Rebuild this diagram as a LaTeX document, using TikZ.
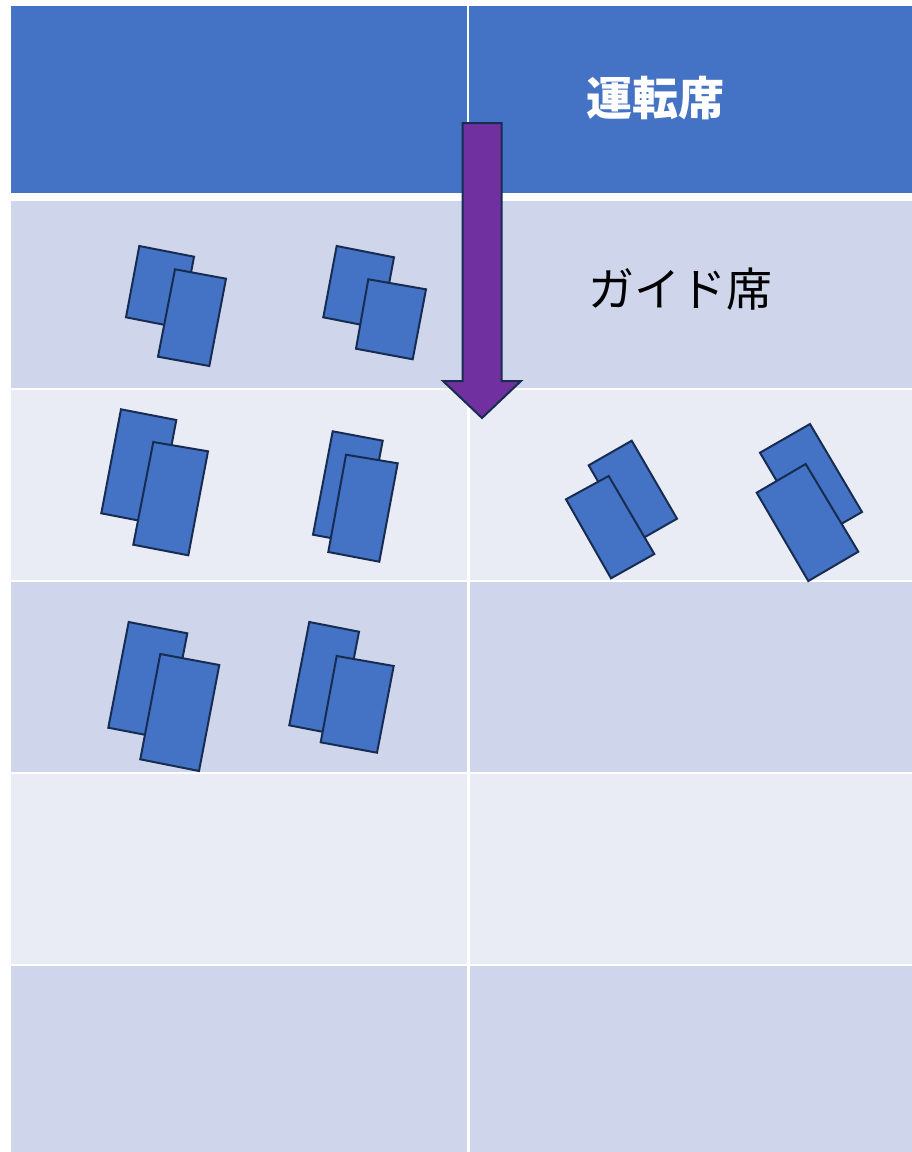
\documentclass[tikz,border=0pt]{standalone}
\usepackage{fontspec}
\newfontfamily\jp{Noto Sans CJK JP}
\definecolor{hdrblue}{HTML}{4472C4}
\definecolor{rowdark}{HTML}{CFD5EA}
\definecolor{rowlight}{HTML}{E9EBF5}
\definecolor{seatline}{HTML}{172C51}
\definecolor{arrowpurple}{HTML}{7030A0}
\tikzset{
  seat/.style={fill=hdrblue, draw=seatline, line width=2pt, line join=miter},
  darkcell/.style={fill=rowdark, draw=none},
  lightcell/.style={fill=rowlight, draw=none},
  hdrtext/.style={inner sep=0pt, text=white, font=\jp\bfseries\fontsize{46}{50}\selectfont},
  celltext/.style={inner sep=0pt, text=black, font=\jp\fontsize{46}{50}\selectfont},
  bigarrow/.style={fill=arrowpurple, draw=seatline, line width=2pt, line join=miter}
}
\begin{document}
\begin{tikzpicture}[x=1pt,y=-1pt]
\useasboundingbox (0,0) rectangle (912,1152);
\fill[white] (0,0) rectangle (912,1152);
% header
\fill[hdrblue] (11,6) rectangle (912,192.5);
\draw[white, line width=1.3pt] (468,6) -- (468,192.5);
% body rows
\foreach \ya/\yb/\st in {200.5/387.5/darkcell, 389.5/580/lightcell, 582/771.5/darkcell, 773.5/963.5/lightcell, 965.5/1152/darkcell}{
  \path[\st] (11,\ya) rectangle (467,\yb);
  \path[\st] (469.5,\ya) rectangle (912,\yb);
}
% texts
\node[hdrtext] (driver) at (655.5,98.5) {運転席};
\node[celltext] (guide) at (680,289) {ガイド席};
% seats row 1
\draw[seat] (139.3,246) -- (194,256.7) -- (180.7,328) -- (126,317.3) -- cycle;
\draw[seat] (175,269.3) -- (226,278.7) -- (209.3,366) -- (158,356.7) -- cycle;
\draw[seat] (336.7,246) -- (394,257.3) -- (380.6,328.6) -- (323.3,317.3) -- cycle;
\draw[seat] (368.3,279.3) -- (426,289.3) -- (412.7,359.3) -- (356,348.7) -- cycle;
% seats row 2
\draw[seat] (121,409.3) -- (176.3,420) -- (156.6,524) -- (101.3,513.3) -- cycle;
\draw[seat] (153.3,442) -- (208,451.3) -- (188.3,555.3) -- (133.3,544.7) -- cycle;
\draw[seat] (332.7,431.3) -- (382.7,440.7) -- (363,544) -- (313,534.7) -- cycle;
\draw[seat] (346,454.7) -- (397.7,463.3) -- (379.3,561.7) -- (328.3,552) -- cycle;
% seats row 3
\draw[seat] (128.7,622) -- (187.3,633.3) -- (166.9,739) -- (108.3,727.7) -- cycle;
\draw[seat] (160.3,654) -- (219.3,665) -- (199,771) -- (140.3,759.3) -- cycle;
\draw[seat] (309.3,622) -- (359,631.7) -- (339,735) -- (289.3,725.3) -- cycle;
\draw[seat] (336.7,656) -- (393.7,666) -- (377,752.7) -- (320.7,742.3) -- cycle;
% seats right column row 2
\draw[seat] (588.7,465.3) -- (631.7,440.7) -- (677,518.7) -- (634,543.3) -- cycle;
\draw[seat] (566,499.3) -- (608.7,476) -- (654.3,554) -- (611,578.3) -- cycle;
\draw[seat] (760,452.7) -- (810,424) -- (862,512) -- (812,540.7) -- cycle;
\draw[seat] (756.7,492.7) -- (805.7,464) -- (858.3,551.7) -- (808.3,581) -- cycle;
% big arrow
\coordinate (atop) at (482,123);
\coordinate (atip) at (482,418);
\draw[bigarrow] (462.5,123) -- (501.5,123) -- (501.5,381) -- (521,381) -- (atip) -- (443,381) -- (462.5,381) -- cycle;
\end{tikzpicture}
\end{document}
